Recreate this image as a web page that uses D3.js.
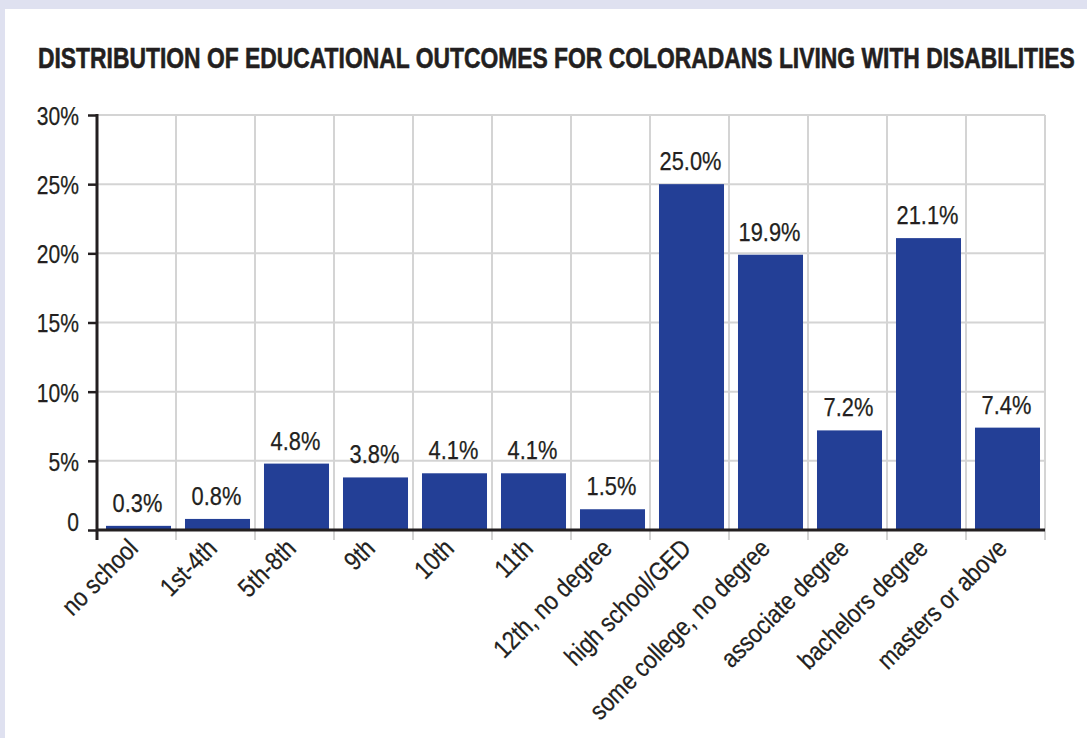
<!DOCTYPE html>
<html>
<head>
<meta charset="utf-8">
<script src="https://cdn.jsdelivr.net/npm/d3@7"></script>
<style>
  body { margin: 0; background: #dfe1f0; }
  text { font-family: "Liberation Sans", Arial, sans-serif; fill: #231f20; }
</style>
</head>
<body>
<div id="container"></div>
<script>

/** DATA */
const categories = ["no school", "1st-4th", "5th-8th", "9th", "10th", "11th",
  "12th, no degree", "high school/GED", "some college, no degree",
  "associate degree", "bachelors degree", "masters or above"];
const values = [0.3, 0.8, 4.8, 3.8, 4.1, 4.1, 1.5, 25.0, 19.9, 7.2, 21.1, 7.4];
const yTicks = [0, 5, 10, 15, 20, 25, 30];
const title = "DISTRIBUTION OF EDUCATIONAL OUTCOMES FOR COLORADANS LIVING WITH DISABILITIES";

/** CONSTANTS */
const width = 1087,
  height = 738,
  margin = { top: 115, bottom: 208, left: 97, right: 42 };

const barColor = "#233f96",
  gridColor = "#d4d4d4",
  inkColor = "#231f20";

// squeeze text horizontally to fake a condensed face
function squeeze(sel, k) {
  sel.each(function () {
    const w = this.getComputedTextLength();
    d3.select(this)
      .attr("textLength", w * k)
      .attr("lengthAdjust", "spacingAndGlyphs");
  });
}

const svg = d3.select("#container")
  .append("svg")
  .attr("width", width)
  .attr("height", height)
  .style("display", "block");

// panel
svg.append("rect")
  .attr("x", 5).attr("y", 9)
  .attr("width", width - 5).attr("height", height - 9)
  .attr("fill", "#fff");

// title, squeezed to the width of the reference
const titleText = svg.append("text")
  .attr("font-size", 29)
  .attr("font-weight", "bold")
  .attr("stroke", inkColor)
  .attr("stroke-width", 0.6)
  .text(title);
const titleW = titleText.node().getComputedTextLength();
titleText.attr("transform", `translate(38,68) scale(${1037 / titleW},1)`);

// scales
const x = d3.scaleBand()
  .domain(categories)
  .range([margin.left, width - margin.right])
  .paddingInner(0.177)
  .paddingOuter(0.0885);

const y = d3.scaleLinear()
  .domain([0, 30])
  .range([height - margin.bottom, margin.top]);

const bottomY = y(0) + 10;

// horizontal gridlines
svg.selectAll(".hgrid")
  .data(yTicks.filter(d => d > 0))
  .join("line")
  .attr("class", "hgrid")
  .attr("x1", margin.left).attr("x2", width - margin.right)
  .attr("y1", d => y(d)).attr("y2", d => y(d))
  .attr("stroke", gridColor)
  .attr("stroke-width", 2);

// vertical gridlines at band edges
const edges = d3.range(1, categories.length + 1).map(i => margin.left + i * x.step());
svg.selectAll(".vgrid")
  .data(edges)
  .join("line")
  .attr("class", "vgrid")
  .attr("x1", d => d).attr("x2", d => d)
  .attr("y1", y(30)).attr("y2", bottomY)
  .attr("stroke", gridColor)
  .attr("stroke-width", 2);

// bars
svg.append("g")
  .attr("transform", "translate(2,0)")
  .selectAll(".bar")
  .data(values)
  .join("rect")
  .attr("class", "bar")
  .attr("x", (d, i) => x(categories[i]))
  .attr("y", d => y(d))
  .attr("width", x.bandwidth())
  .attr("height", d => y(0) - y(d))
  .attr("fill", barColor);

// value labels
svg.selectAll(".val")
  .data(values)
  .join("text")
  .attr("class", "val")
  .attr("x", (d, i) => x(categories[i]) + x.bandwidth() / 2 + 1)
  .attr("y", d => y(d) - 14)
  .attr("text-anchor", "middle")
  .attr("font-size", 26)
  .attr("stroke", inkColor)
  .attr("stroke-width", 0.25)
  .text(d => d.toFixed(1) + "%")
  .call(squeeze, 0.84);

// y axis
const yAxis = svg.append("g")
  .attr("transform", `translate(${margin.left},0)`)
  .call(d3.axisLeft(y)
    .tickValues(yTicks)
    .tickSize(9)
    .tickPadding(9)
    .tickFormat(d => d === 0 ? "0" : d + "%"));

yAxis.select(".domain").remove();
yAxis.selectAll(".tick line")
  .attr("stroke", inkColor)
  .attr("stroke-width", 2.5);
yAxis.selectAll(".tick text")
  .attr("font-size", 26)
  .attr("font-family", null)
  .attr("fill", inkColor)
  .attr("stroke", inkColor)
  .attr("stroke-width", 0.25)
  .attr("dy", d => d === 0 ? "0" : "0.36em")
  .call(squeeze, 0.81);

// axis lines
svg.append("line")
  .attr("x1", margin.left).attr("x2", margin.left)
  .attr("y1", y(30) - 1).attr("y2", bottomY)
  .attr("stroke", inkColor)
  .attr("stroke-width", 3);

svg.append("line")
  .attr("x1", margin.left).attr("x2", width - margin.right)
  .attr("y1", y(0)).attr("y2", y(0))
  .attr("stroke", inkColor)
  .attr("stroke-width", 3);

// category labels
svg.selectAll(".cat")
  .data(categories)
  .join("text")
  .attr("class", "cat")
  .attr("text-anchor", "end")
  .attr("font-size", 26)
  .attr("stroke", inkColor)
  .attr("stroke-width", 0.25)
  .attr("transform", d => `translate(${x(d) + x.bandwidth() / 2 + 3},${bottomY + 10}) rotate(-45)`)
  .text(d => d)
  .call(squeeze, 0.85);

</script>
</body>
</html>
